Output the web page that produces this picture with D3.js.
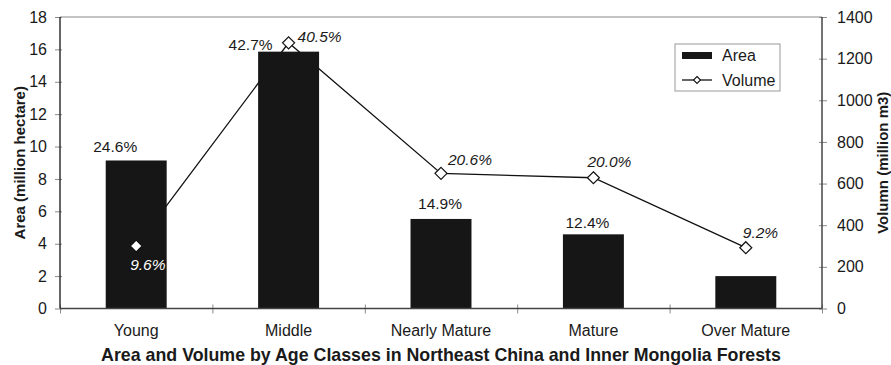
<!DOCTYPE html>
<html>
<head>
<meta charset="utf-8">
<script src="https://cdn.jsdelivr.net/npm/d3@7"></script>
<style>
  html, body { margin: 0; padding: 0; background: #fff; }
  svg { display: block; font-family: "Liberation Sans", Arial, Helvetica, sans-serif; }
</style>
</head>
<body>
<svg id="chart" width="891" height="365"></svg>
<script>
// Age classes and their forest area / growing stock volume
const categories = ["Young", "Middle", "Nearly Mature", "Mature", "Over Mature"];
const areaValues = [9.14, 15.86, 5.53, 4.58, 2.0];          // million hectare
const volumeValues = [300, 1276, 649, 628, 292];            // million m3
const areaLabels = ["24.6%", "42.7%", "14.9%", "12.4%", ""];
const volumeLabels = ["9.6%", "40.5%", "20.6%", "20.0%", "9.2%"];
const areaTicks = [0, 2, 4, 6, 8, 10, 12, 14, 16, 18];
const volumeTicks = [0, 200, 400, 600, 800, 1000, 1200, 1400];

// Hand-placed label offsets (px) so labels avoid the line and markers
const areaLabelNudge = [[-21, -8], [-38, -2], [-1, -10], [-6, -6], [0, 0]];
const volumeLabelNudge = [[-6, 24], [9, -1], [7, -8], [-6, -11], [-3, -10]];

const svg = d3.select("#chart");
const plotL = 60, plotR = 822, plotT = 17, plotB = 308.5;
const textColor = "#1a1a1a";

const x = d3.scaleBand().domain(categories).range([plotL, plotR])
  .paddingInner(0.6).paddingOuter(0.3);
const xEdges = d3.scaleLinear().domain([0, categories.length]).range([plotL, plotR]);
const yArea = d3.scaleLinear().domain([0, 18]).range([plotB, plotT]);
const yVol = d3.scaleLinear().domain([0, 1400]).range([plotB, plotT]);
const cx = c => x(c) + x.bandwidth() / 2;

// Top frame edge
svg.append("line").attr("x1", plotL).attr("x2", plotR).attr("y1", plotT).attr("y2", plotT)
  .attr("stroke", "#8a8a8a").attr("stroke-width", 1.2);

// Left axis
const gL = svg.append("g").attr("transform", `translate(${plotL},0)`)
  .call(d3.axisLeft(yArea).tickValues(areaTicks).tickSize(5).tickPadding(8).tickFormat(d3.format("d")));
// Right axis
const gR = svg.append("g").attr("transform", `translate(${plotR},0)`)
  .call(d3.axisRight(yVol).tickValues(volumeTicks).tickSize(5).tickPadding(10).tickFormat(d3.format("d")));
// Bottom axis: ticks on category boundaries
const gB = svg.append("g").attr("transform", `translate(0,${plotB})`)
  .call(d3.axisBottom(xEdges).tickValues(d3.range(categories.length + 1)).tickSize(5).tickFormat(""));

[gL, gR, gB].forEach(g => {
  g.select(".domain").remove();
  g.selectAll(".tick line").attr("stroke", "#8a8a8a").attr("stroke-width", 1);
  g.selectAll(".tick text").attr("fill", textColor).attr("font-size", 16)
    .attr("font-family", "'Liberation Sans', Arial, Helvetica, sans-serif");
});
gL.selectAll(".tick line").attr("x2", -5).attr("x1", 2);
gR.selectAll(".tick line").attr("x1", -3).attr("x2", 5);
gB.selectAll(".tick line").attr("y1", -4).attr("y2", 5);

// Category labels
svg.append("g").selectAll("text").data(categories).join("text")
  .attr("x", d => cx(d)).attr("y", 336)
  .attr("text-anchor", "middle").attr("font-size", 16).attr("fill", textColor)
  .text(d => d);

// Volume line (sits behind the bars)
const pts = categories.map((c, i) => [cx(c), yVol(volumeValues[i])]);
svg.append("path").attr("d", d3.line()(pts))
  .attr("fill", "none").attr("stroke", "#111").attr("stroke-width", 1.3);

// Area bars
svg.append("g").selectAll("rect").data(categories).join("rect")
  .attr("x", d => x(d)).attr("width", x.bandwidth())
  .attr("y", (d, i) => yArea(areaValues[i]))
  .attr("height", (d, i) => plotB - yArea(areaValues[i]))
  .attr("fill", "#161616");

// Axis lines drawn over the bars
svg.append("line").attr("x1", plotL).attr("x2", plotR).attr("y1", plotB).attr("y2", plotB)
  .attr("stroke", "#444").attr("stroke-width", 1.6);
svg.append("line").attr("x1", plotL).attr("x2", plotL).attr("y1", plotT).attr("y2", plotB)
  .attr("stroke", "#333").attr("stroke-width", 1.5);
svg.append("line").attr("x1", plotR).attr("x2", plotR).attr("y1", plotT).attr("y2", plotB)
  .attr("stroke", "#444").attr("stroke-width", 1.5);

// Diamond markers
const diamond = r => `M0,${-r}L${r},0L0,${r}L${-r},0Z`;
svg.append("g").selectAll("path").data(pts).join("path")
  .attr("transform", d => `translate(${d[0]},${d[1]})`)
  .attr("d", diamond(6))
  .attr("fill", "#fff").attr("stroke", "#111").attr("stroke-width", 1.2);

// Area percentage labels
svg.append("g").selectAll("text").data(categories).join("text")
  .attr("x", (d, i) => cx(d) + areaLabelNudge[i][0])
  .attr("y", (d, i) => yArea(areaValues[i]) + areaLabelNudge[i][1])
  .attr("text-anchor", "middle").attr("font-size", 15.5).attr("fill", textColor)
  .text((d, i) => areaLabels[i]);

// Volume percentage labels (italic); the first one sits on a dark bar
svg.append("g").selectAll("text").data(pts).join("text")
  .attr("x", (d, i) => d[0] + volumeLabelNudge[i][0])
  .attr("y", (d, i) => d[1] + volumeLabelNudge[i][1])
  .attr("font-size", 15.5).attr("font-style", "italic")
  .attr("fill", (d, i) => i === 0 ? "#fff" : textColor)
  .text((d, i) => volumeLabels[i]);

// Axis titles
svg.append("text").attr("transform", `translate(25,${(plotT + plotB) / 2}) rotate(-90)`)
  .attr("text-anchor", "middle").attr("font-size", 15).attr("font-weight", "bold").attr("fill", textColor)
  .text("Area (million hectare)");
svg.append("text").attr("transform", `translate(888,${(plotT + plotB) / 2}) rotate(-90)`)
  .attr("text-anchor", "middle").attr("font-size", 15).attr("font-weight", "bold").attr("fill", textColor)
  .text("Volumn (million m3)");

// Chart title
svg.append("text").attr("x", (plotL + plotR) / 2).attr("y", 361)
  .attr("text-anchor", "middle").attr("font-size", 17.8).attr("font-weight", "bold").attr("fill", textColor)
  .text("Area and Volume by Age Classes in Northeast China and Inner Mongolia Forests");

// Legend
const lg = svg.append("g").attr("transform", "translate(675,44)");
lg.append("rect").attr("width", 105).attr("height", 47)
  .attr("fill", "#fff").attr("stroke", "#999").attr("stroke-width", 1);
lg.append("rect").attr("x", 7).attr("y", 8).attr("width", 30).attr("height", 7).attr("fill", "#161616");
lg.append("text").attr("x", 47).attr("y", 16.5).attr("font-size", 16).attr("fill", textColor).text("Area");
lg.append("line").attr("x1", 7).attr("x2", 37).attr("y1", 36).attr("y2", 36)
  .attr("stroke", "#111").attr("stroke-width", 1.3);
lg.append("path").attr("transform", "translate(22,36)").attr("d", diamond(3.5))
  .attr("fill", "#fff").attr("stroke", "#111").attr("stroke-width", 1.1);
lg.append("text").attr("x", 47).attr("y", 41.5).attr("font-size", 16).attr("fill", textColor).text("Volume");
</script>
</body>
</html>
